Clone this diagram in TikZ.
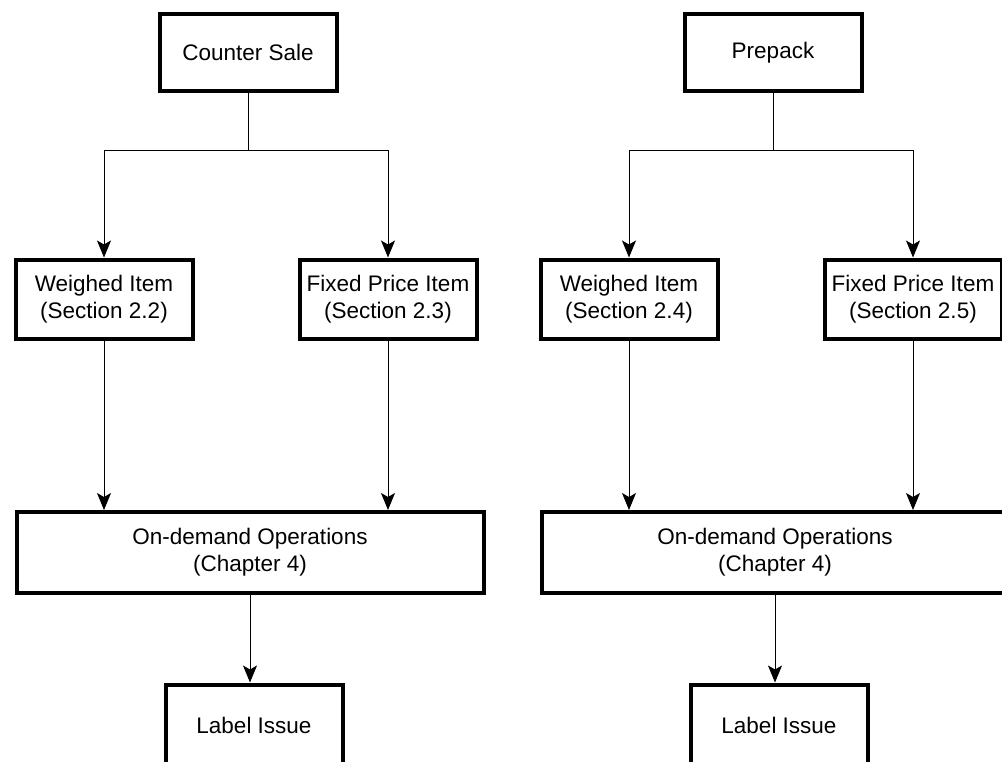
\documentclass[tikz,border=0pt]{standalone}
\usepackage{fontspec}
\setmainfont{Liberation Sans}
\usetikzlibrary{arrows.meta,positioning}

\begin{document}
\begin{tikzpicture}[x=0.5pt, y=-0.5pt,
  font=\fontsize{11.25}{13.5}\selectfont,
  box/.style={draw, line width=2pt, align=center, inner sep=0pt},
  flow/.style={line width=0.5pt, -{Stealth[length=8.5pt, width=7pt, inset=2pt]}}]
\useasboundingbox (0,0) rectangle (1002,761);
\clip (0,0) rectangle (1002,761);
% two identical halves, shifted by \x
\foreach \n/\x/\toplab/\wsec/\fsec in {l/0/Counter Sale/2.2/2.3, r/525/Prepack/2.4/2.5} {
  \node[box, minimum width=88.5pt, minimum height=38.5pt] (src-\n) at (\x+248,52.5) {\toplab};
  \node[box, minimum width=88.5pt, minimum height=39.5pt] (wi-\n) at (\x+104,299) {Weighed Item\\(Section \wsec)};
  \node[box, minimum width=88.5pt, minimum height=39.5pt] (fp-\n) at (\x+388,299) {Fixed Price Item\\(Section \fsec)};
  \node[box, minimum width=233.5pt, minimum height=40.5pt] (od-\n) at (\x+250,552.5) {On-demand Operations\\(Chapter 4)};
  \node[box, minimum width=88.5pt, minimum height=40.5pt] (li-\n) at (\x+254,725) {Label Issue};
  \draw[line width=0.5pt] (src-\n.south) -- ++(0,57) coordinate (fork-\n);
  \draw[flow] (fork-\n) -| (wi-\n.north);
  \draw[flow] (fork-\n) -| (fp-\n.north);
  \draw[flow] (wi-\n.south) -- (wi-\n.south |- od-\n.north);
  \draw[flow] (fp-\n.south) -- (fp-\n.south |- od-\n.north);
  \draw[flow] (od-\n.south) -- (od-\n.south |- li-\n.north);
}
\end{tikzpicture}
\end{document}
